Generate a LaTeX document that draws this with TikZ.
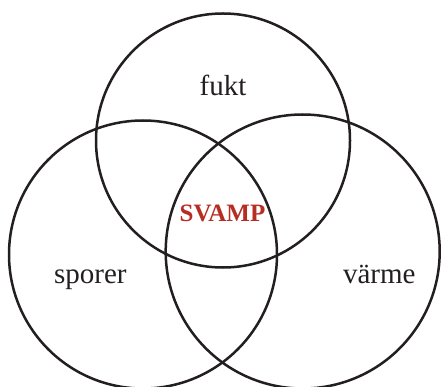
\documentclass[tikz,border=0pt]{standalone}
\usepackage{fontspec}
\setmainfont{Liberation Serif}
\definecolor{ink}{RGB}{35,31,32}
\definecolor{svampred}{RGB}{182,45,36}
\begin{document}
\begin{tikzpicture}[x=1pt,y=-1pt,
  venn/.style={circle,draw=ink,line width=2.5pt,inner sep=0pt,outer sep=0pt},
  lbl/.style={anchor=base,inner sep=0pt,text=ink,font=\fontsize{29}{33}\selectfont},
  core/.style={anchor=base,inner sep=0pt,text=svampred,font=\fontsize{25}{29}\selectfont\bfseries}]
\useasboundingbox (0,0) rectangle (441,387);
\node[venn,minimum size=254pt] (cfukt) at (223,140.5) {};
\node[venn,minimum size=268pt] (csporer) at (143,254.5) {};
\node[venn,minimum size=274pt] (cvarme) at (302.7,251.5) {};
\node[lbl] (fukt) at (223,95.7) {fukt};
\node[lbl] (sporer) at (90.3,283.3) {sporer};
\node[lbl] (varme) at (379.3,283.3) {värme};
\node[core] (svamp) at (222.5,221.7) {SVAMP};
\end{tikzpicture}
\end{document}
